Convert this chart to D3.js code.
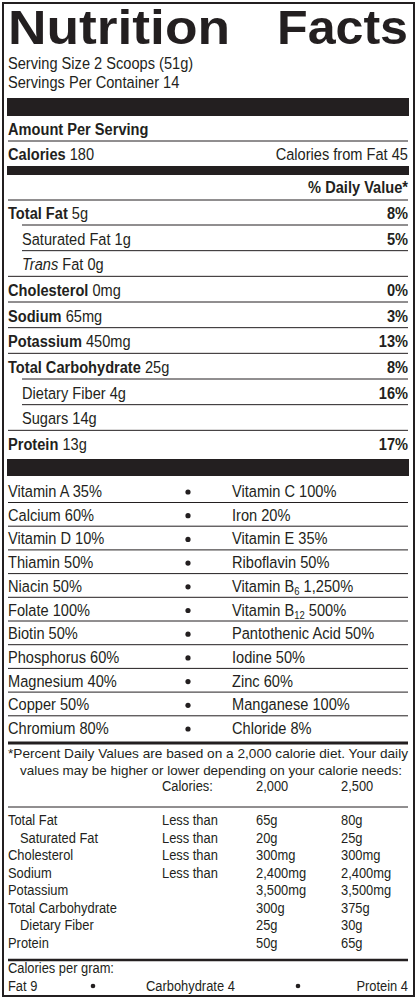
<!DOCTYPE html>
<html><head><meta charset="utf-8">
<script src="https://cdn.jsdelivr.net/npm/d3@7"></script>
<style>
body{margin:0;background:#fff}
text{font-family:"Liberation Sans Narrow","Arial Narrow","Liberation Sans",sans-serif;fill:#231f20}
</style></head>
<body><svg width="418" height="1000"></svg>
<script>
const svg = d3.select("svg");
const L = 8, R = 408;
const ink = "#231f20";

// data
const servingLines = ["Serving Size 2 Scoops (51g)", "Servings Per Container 14"];
const nutrients = [
  {name: "Total Fat", amt: "5g", pct: "8%", bold: true, indent: 0},
  {name: "Saturated Fat", amt: "1g", pct: "5%", bold: false, indent: 1},
  {name: "Trans", amt: "Fat 0g", pct: "", bold: false, indent: 1, italic: true},
  {name: "Cholesterol", amt: "0mg", pct: "0%", bold: true, indent: 0},
  {name: "Sodium", amt: "65mg", pct: "3%", bold: true, indent: 0},
  {name: "Potassium", amt: "450mg", pct: "13%", bold: true, indent: 0},
  {name: "Total Carbohydrate", amt: "25g", pct: "8%", bold: true, indent: 0},
  {name: "Dietary Fiber", amt: "4g", pct: "16%", bold: false, indent: 1},
  {name: "Sugars", amt: "14g", pct: "", bold: false, indent: 1},
  {name: "Protein", amt: "13g", pct: "17%", bold: true, indent: 0}
];
const vitLeft = ["Vitamin A 35%", "Calcium 60%", "Vitamin D 10%", "Thiamin 50%", "Niacin 50%", "Folate 100%",
  "Biotin 50%", "Phosphorus 60%", "Magnesium 40%", "Copper 50%", "Chromium 80%"];
const vitRight = ["Vitamin C 100%", "Iron 20%", "Vitamin E 35%", "Riboflavin 50%", "Vitamin B|6| 1,250%",
  "Vitamin B|12| 500%", "Pantothenic Acid 50%", "Iodine 50%", "Zinc 60%", "Manganese 100%", "Chloride 8%"];
const dvRows = [
  ["Total Fat", "Less than", "65g", "80g"],
  ["  Saturated Fat", "Less than", "20g", "25g"],
  ["Cholesterol", "Less than", "300mg", "300mg"],
  ["Sodium", "Less than", "2,400mg", "2,400mg"],
  ["Potassium", "", "3,500mg", "3,500mg"],
  ["Total Carbohydrate", "", "300g", "375g"],
  ["  Dietary Fiber", "", "25g", "30g"],
  ["Protein", "", "50g", "65g"]
];
const calPerGram = ["Fat 9", "Carbohydrate 4", "Protein 4"];

// horizontally squeezed text to mimic the narrow label face
const SQ = 0.86;
function txt(x, y, size, anchor) {
  return svg.append("text").attr("transform", `translate(${x},${y}) scale(${SQ},1)`)
    .attr("text-anchor", anchor || "start").style("font-size", size + "px");
}
function rect(y0, y1) { svg.append("rect").attr("x", L - 1).attr("width", R - L + 2).attr("y", y0).attr("height", y1 - y0).attr("fill", ink); }
function hline(y, x0 = L, w = 1) { svg.append("line").attr("x1", x0).attr("x2", R).attr("y1", y).attr("y2", y).attr("stroke", ink).attr("stroke-width", w); }

// border
svg.append("rect").attr("x", 3).attr("y", 3).attr("width", 411).attr("height", 993).attr("fill", "none").attr("stroke", ink).attr("stroke-width", 2);

const title = svg.append("g").style("font-family", "'DejaVu Sans',sans-serif").style("font-weight", "bold").style("font-size", "48px");
title.append("text").attr("x", L).attr("y", 44).attr("textLength", 222).attr("lengthAdjust", "spacingAndGlyphs").text("Nutrition");
title.append("text").attr("x", R).attr("y", 44).attr("text-anchor", "end").attr("textLength", 131).attr("lengthAdjust", "spacingAndGlyphs").text("Facts");
servingLines.forEach((d, i) => txt(L, 69 + i * 19, 17).text(d));

rect(98, 116);
txt(L, 135, 17).style("font-weight", "bold").text("Amount Per Serving");
hline(141);
const cal = txt(L, 160, 17);
cal.append("tspan").style("font-weight", "bold").text("Calories");
cal.append("tspan").text(" 180");
txt(R, 160, 17, "end").text("Calories from Fat 45");
rect(166, 175);
txt(R, 193, 17, "end").style("font-weight", "bold").text("% Daily Value*");
hline(200);

const yN = d3.scaleLinear().domain([0, 9]).range([219, 450]);
nutrients.forEach((d, i) => {
  const t = txt(L + (d.indent ? 14 : 0), yN(i), 17);
  t.append("tspan").style("font-weight", d.bold ? "bold" : "normal").style("font-style", d.italic ? "italic" : "normal").text(d.name);
  t.append("tspan").text(" " + d.amt);
  txt(R, yN(i), 17, "end").style("font-weight", "bold").text(d.pct);
  if (i < nutrients.length - 1) hline(yN(i) + 6, nutrients[i + 1].indent ? 22 : L);
});

rect(459, 476);

const yV = d3.scaleLinear().domain([0, 10]).range([497, 734]);
function richText(sel, s) {
  s.split("|").forEach((part, k) => {
    const ts = sel.append("tspan").text(part);
    if (k % 2 === 1) ts.style("font-size", "11px").attr("dy", 3);
    else if (k > 0) ts.attr("dy", -3);
  });
}
vitLeft.forEach((v, i) => {
  txt(L, yV(i), 17).text(v);
  svg.append("circle").attr("cx", 188).attr("cy", yV(i) - 5).attr("r", 2.6).attr("fill", ink);
  richText(txt(232, yV(i), 17), vitRight[i]);
  if (i < vitLeft.length - 1) hline(yV(i) + 5.5);
});
hline(743, L, 3);

const fn = ["*Percent Daily Values are based on a 2,000 calorie diet. Your daily",
  "values may be higher or lower depending on your calorie needs:"];
fn.forEach((d, i) => {
  svg.append("text").attr("x", i ? 20 : L).attr("y", 758 + i * 17).attr("textLength", i ? 382 : 400)
    .attr("lengthAdjust", "spacingAndGlyphs").style("font-size", "13px").text(d);
});
const cols = [L, 162, 256, 341];
["Calories:", "2,000", "2,500"].forEach((s, k) => txt(cols[k + 1], 791, 15).text(s));
hline(807);
const yT = d3.scaleLinear().domain([0, 7]).range([825, 948]);
dvRows.forEach((r, i) => r.forEach((s, k) => {
  const ind = s.startsWith("  ");
  txt(cols[k] + (ind ? 12 : 0), yT(i), 15).text(s.trim());
}));
hline(960, L, 2.5);
txt(L, 973, 15).text("Calories per gram:");
txt(L, 991, 15).text(calPerGram[0]);
txt(146, 991, 15).text(calPerGram[1]);
txt(R, 991, 15, "end").text(calPerGram[2]);
[93, 298].forEach(x => svg.append("circle").attr("cx", x).attr("cy", 986).attr("r", 2.3).attr("fill", ink));
</script></body></html>
